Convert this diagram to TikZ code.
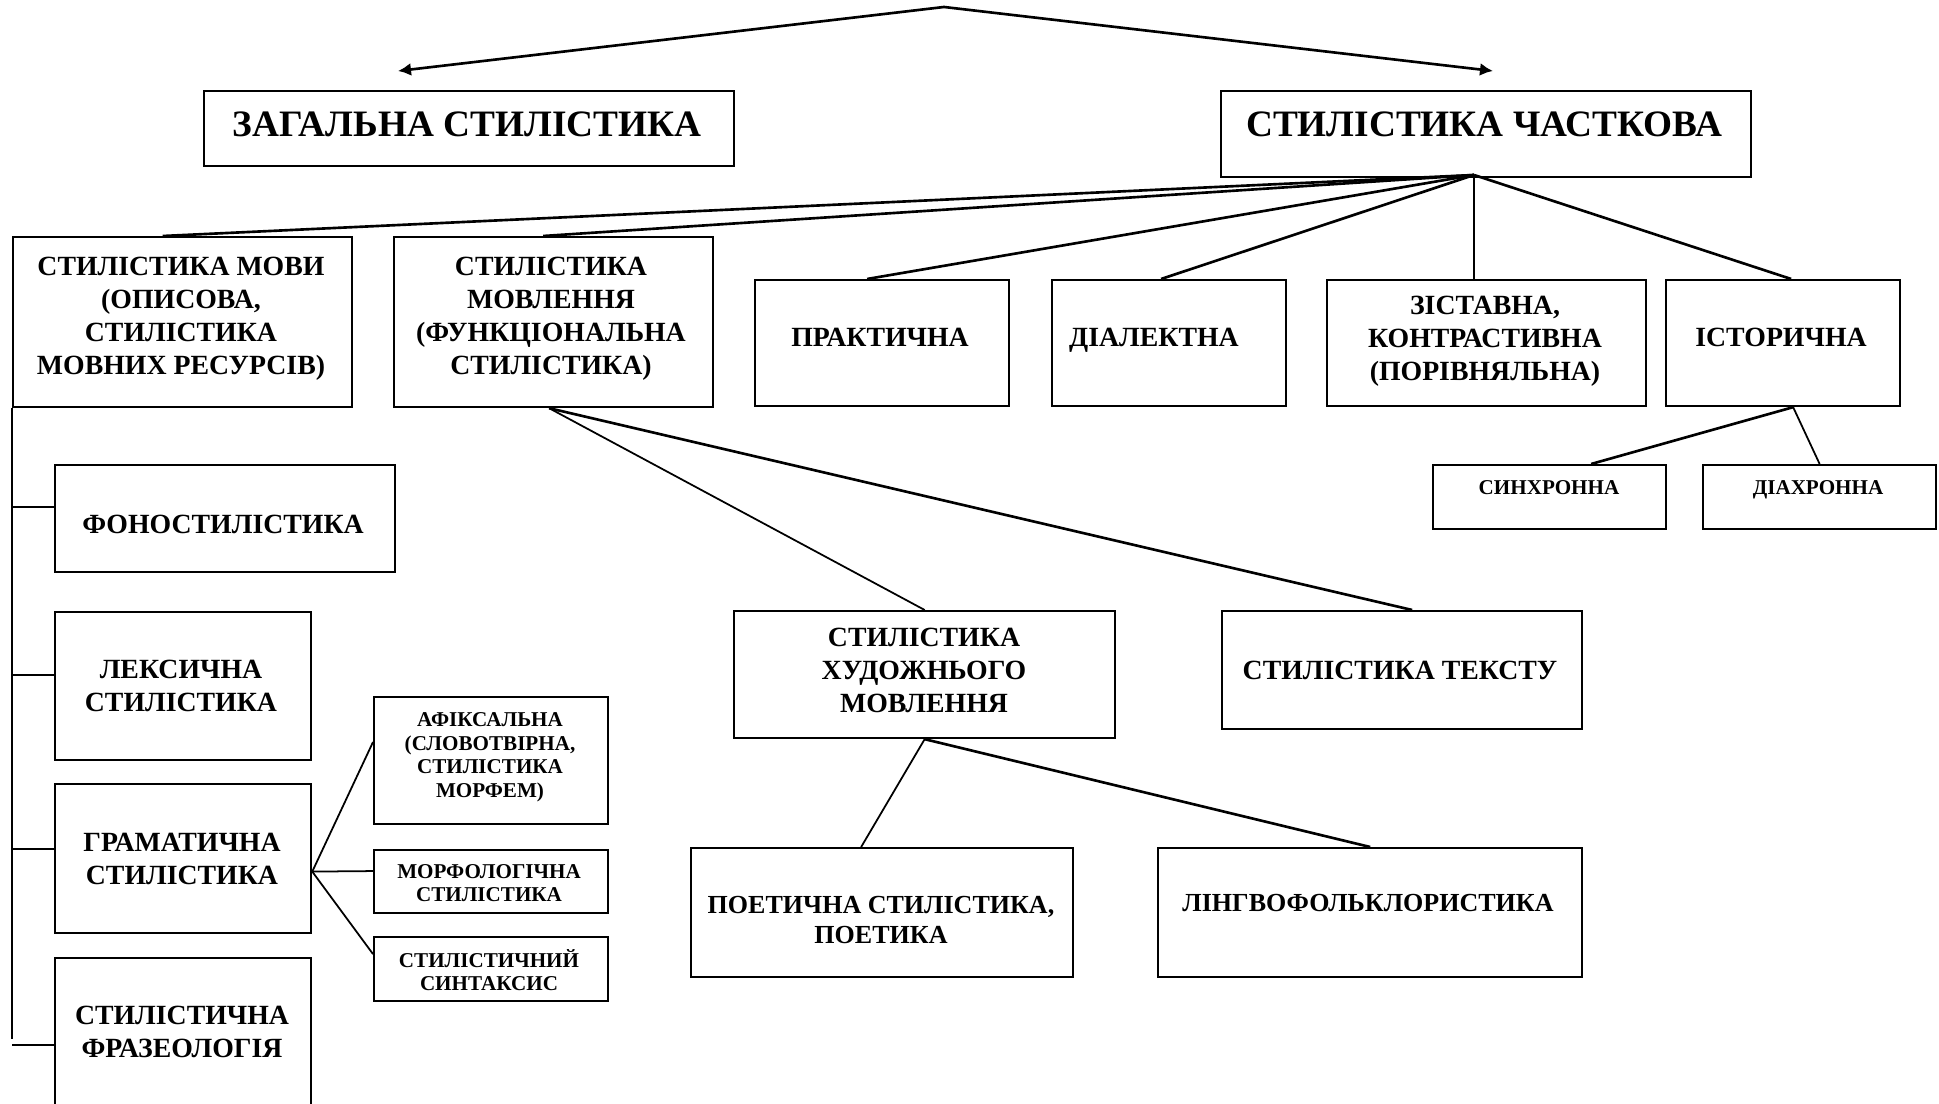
\documentclass[tikz,border=0pt]{standalone}
\usepackage{fontspec}
\setmainfont{Liberation Serif}
\usetikzlibrary{positioning}
\usetikzlibrary{arrows.meta}

\newcommand{\fbig}{\fontsize{10.6}{12.5}\selectfont\bfseries}
\newcommand{\fmid}{\fontsize{7.9}{9.4}\selectfont\bfseries}
\newcommand{\fmidl}{\fontsize{7.4}{8.6}\selectfont\bfseries}
\newcommand{\fsml}{\fontsize{6}{6.8}\selectfont\bfseries}

\tikzset{
  box/.style={draw, line width=0.6pt, inner sep=0pt, anchor=north west},
  lbl/.style={inner sep=0pt, align=center, text depth=0pt, font=\fmid},
  link/.style={line width=0.75pt},
  fine/.style={line width=0.5pt}
}

\begin{document}
\begin{tikzpicture}[x=0.01cm,y=-0.01cm]
\clip (0,0) rectangle (1939,1104);
\fill[white] (0,0) rectangle (1939,1104);

% top level
\node[box, minimum width=5.30cm, minimum height=0.75cm] (zag) at (203,90) {};
\node[box, minimum width=5.30cm, minimum height=0.86cm] (chast) at (1220,90) {};
\node[lbl, font=\fbig] (zag-t) at (467,124) {ЗАГАЛЬНА СТИЛІСТИКА};
\node[lbl, font=\fbig] (chast-t) at (1484,124) {СТИЛІСТИКА ЧАСТКОВА};

\coordinate (apex) at (944,7);
\coordinate (zag-tip) at (398,71);
\coordinate (chast-tip) at (1493,71);
\draw[link, -{Latex[length=1.3mm,width=1.3mm]}] (apex) -- (zag-tip);
\draw[link, -{Latex[length=1.3mm,width=1.3mm]}] (apex) -- (chast-tip);

% second row
\node[box, minimum width=3.39cm, minimum height=1.70cm] (mova) at (12,236) {};
\node[box, minimum width=3.19cm, minimum height=1.70cm] (movl) at (393,236) {};
\node[box, minimum width=2.54cm, minimum height=1.26cm] (prakt) at (754,279) {};
\node[box, minimum width=2.34cm, minimum height=1.26cm] (dial) at (1051,279) {};
\node[box, minimum width=3.19cm, minimum height=1.26cm] (zist) at (1326,279) {};
\node[box, minimum width=2.34cm, minimum height=1.26cm] (ist) at (1665,279) {};

\node[lbl] (mova-t) at (181,316) {СТИЛІСТИКА МОВИ\\(ОПИСОВА,\\СТИЛІСТИКА\\МОВНИХ РЕСУРСІВ)};
\node[lbl] (movl-t) at (551,316) {СТИЛІСТИКА\\МОВЛЕННЯ\\(ФУНКЦІОНАЛЬНА\\СТИЛІСТИКА)};
\node[lbl] (prakt-t) at (880,337) {ПРАКТИЧНА};
\node[lbl] (dial-t) at (1154,337) {ДІАЛЕКТНА};
\node[lbl] (zist-t) at (1485,338) {ЗІСТАВНА,\\КОНТРАСТИВНА\\(ПОРІВНЯЛЬНА)};
\node[lbl] (ist-t) at (1781,337) {ІСТОРИЧНА};

\coordinate (hub) at (1474,175);
\draw[link] (hub) -- ([xshift=-0.20cm]mova.north);
\draw[link] (hub) -- ([xshift=-0.105cm]movl.north);
\draw[link] (hub) -- ([xshift=-0.15cm]prakt.north);
\draw[link] (hub) -- ([xshift=-0.08cm]dial.north);
\draw[fine] (hub) -- (hub |- zist.north);
\draw[link] (hub) -- ([xshift=0.08cm]ist.north);

% historical branch
\node[box, minimum width=2.33cm, minimum height=0.64cm] (synchr) at (1432,464) {};
\node[box, minimum width=2.33cm, minimum height=0.64cm] (diachr) at (1702,464) {};
\node[lbl, font=\fsml] (synchr-t) at (1549,488) {СИНХРОННА};
\node[lbl, font=\fsml] (diachr-t) at (1818,488) {ДІАХРОННА};
\draw[link] ([xshift=0.10cm]ist.south) -- ([xshift=0.415cm]synchr.north);
\draw[fine] ([xshift=0.10cm]ist.south) -- (diachr.north);

% language stylistics
\node[box, minimum width=3.40cm, minimum height=1.07cm] (fono) at (54,464) {};
\node[box, minimum width=2.56cm, minimum height=1.48cm] (leks) at (54,611) {};
\node[box, minimum width=2.56cm, minimum height=1.49cm] (hram) at (54,783) {};
\node[box, minimum width=2.56cm, minimum height=1.70cm] (fraz) at (54,957) {};
\node[lbl] (fono-t) at (223,524) {ФОНОСТИЛІСТИКА};
\node[lbl] (leks-t) at (181,686) {ЛЕКСИЧНА\\СТИЛІСТИКА};
\node[lbl] (hram-t) at (182,859) {ГРАМАТИЧНА\\СТИЛІСТИКА};
\node[lbl] (fraz-t) at (182,1032) {СТИЛІСТИЧНА\\ФРАЗЕОЛОГІЯ};

\coordinate (bus-end) at (12,1039);
\draw[fine] (mova.south west) -- (bus-end);
\foreach \n/\dy in {fono/0.115cm, leks/0.11cm, hram/0.095cm, fraz/-0.02cm}
  \draw[fine] ([yshift=\dy]\n.west) -- ++(-42,0);

\node[box, minimum width=2.34cm, minimum height=1.27cm] (afiks) at (373,696) {};
\node[box, minimum width=2.34cm, minimum height=0.63cm] (morf) at (373,849) {};
\node[box, minimum width=2.34cm, minimum height=0.64cm] (synt) at (373,936) {};
\node[lbl, font=\fsml] (afiks-t) at (490,755) {АФІКСАЛЬНА\\(СЛОВОТВІРНА,\\СТИЛІСТИКА\\МОРФЕМ)};
\node[lbl, font=\fsml] (morf-t) at (489,883) {МОРФОЛОГІЧНА\\СТИЛІСТИКА};
\node[lbl, font=\fsml] (synt-t) at (489,970) {СТИЛІСТИЧНИЙ\\СИНТАКСИС};

\draw[fine] ([yshift=-0.13cm]hram.east) -- ([yshift=0.185cm]afiks.west);
\draw[fine] ([yshift=-0.13cm]hram.east) -- ([yshift=0.105cm]morf.west);
\draw[fine] ([yshift=-0.13cm]hram.east) -- ([yshift=0.15cm]synt.west);

% speech stylistics
\node[box, minimum width=3.81cm, minimum height=1.27cm] (khud) at (733,610) {};
\node[box, minimum width=3.60cm, minimum height=1.18cm] (tekst) at (1221,610) {};
\node[box, minimum width=3.82cm, minimum height=1.29cm] (poet) at (690,847) {};
\node[box, minimum width=4.24cm, minimum height=1.29cm] (lingvo) at (1157,847) {};
\node[lbl] (khud-t) at (924,670) {СТИЛІСТИКА\\ХУДОЖНЬОГО\\МОВЛЕННЯ};
\node[lbl] (tekst-t) at (1400,670) {СТИЛІСТИКА ТЕКСТУ};
\node[lbl, font=\fmidl] (poet-t) at (881,920) {ПОЕТИЧНА СТИЛІСТИКА,\\ПОЕТИКА};
\node[lbl, font=\fmidl] (lingvo-t) at (1368,903) {ЛІНГВОФОЛЬКЛОРИСТИКА};

\draw[fine] ([xshift=-0.045cm]movl.south) -- (khud.north);
\draw[link] ([xshift=-0.045cm]movl.south) -- ([xshift=0.10cm]tekst.north);
\draw[fine] (khud.south) -- ([xshift=-0.21cm]poet.north);
\draw[link] (khud.south) -- (lingvo.north);

\end{tikzpicture}
\end{document}
